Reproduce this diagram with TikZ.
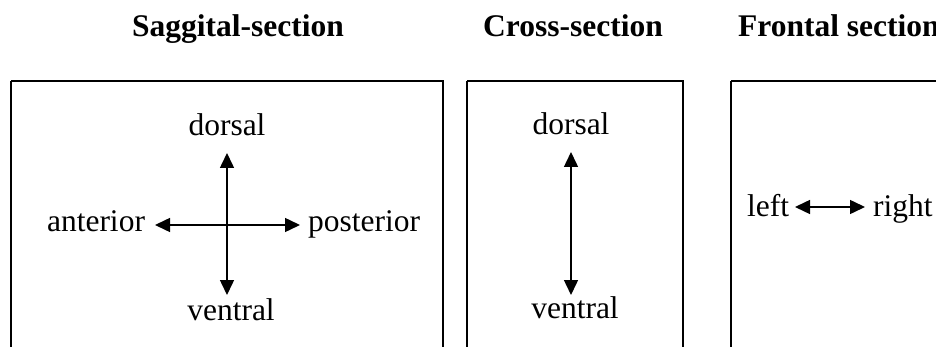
\documentclass[tikz,border=0pt]{standalone}
\usepackage{fontspec}
\setmainfont{Liberation Serif}
\usetikzlibrary{arrows.meta}
\tikzset{
  panel/.style={draw=black, line width=1.5pt},
  lbl/.style={anchor=base, inner sep=0pt, font=\fontsize{31.5}{36}\selectfont},
  ttl/.style={anchor=base west, inner sep=0pt, font=\fontsize{31.5}{36}\selectfont\bfseries},
  arr/.style={line width=1.5pt, {Triangle[length=15pt,width=14pt]}-{Triangle[length=15pt,width=14pt]}}
}
\begin{document}
\begin{tikzpicture}[x=1pt,y=-1pt]
\useasboundingbox (0,0) rectangle (936,347);
\clip (0,0) rectangle (936,347);
\fill[white] (0,0) rectangle (936,347);
% titles
\node[ttl] (t1) at (132,37) {Saggital-section};
\node[ttl] (t2) at (483,37) {Cross-section};
\node[ttl] (t3) at (738,37) {Frontal section};
% panels
\draw[panel] (11,81) -- (11,360) (11,81) -- (443,81) -- (443,360);
\draw[panel] (467,81) -- (467,360) (467,81) -- (683,81) -- (683,360);
\draw[panel] (731,81) -- (731,360) (731,81) -- (960,81);
% sagittal
\node[lbl] (sd) at (227,136) {dorsal};
\node[lbl] (sv) at (231,320) {ventral};
\node[lbl] (sa) at (96,232) {anterior};
\node[lbl] (sp) at (364,232) {posterior};
\coordinate (s1t) at (227,153);
\coordinate (s1b) at (227,295);
\coordinate (s1l) at (155,225);
\coordinate (s1r) at (300,225);
\draw[arr] (s1t) -- (s1b);
\draw[arr] (s1l) -- (s1r);
% cross
\node[lbl] (cd) at (571,135) {dorsal};
\node[lbl] (cv) at (575,318) {ventral};
\coordinate (c1t) at (571,152);
\coordinate (c1b) at (571,295);
\draw[arr] (c1t) -- (c1b);
% frontal
\node[lbl, anchor=base west] (fl) at (747,217) {left};
\node[lbl, anchor=base west] (fr) at (873,217) {right};
\coordinate (f1l) at (795,207);
\coordinate (f1r) at (865,207);
\draw[arr] (f1l) -- (f1r);
\end{tikzpicture}
\end{document}
